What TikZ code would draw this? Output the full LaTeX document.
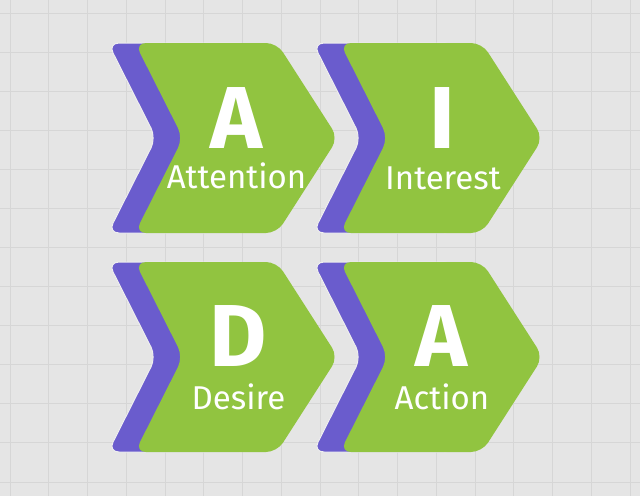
\documentclass[tikz,border=0pt]{standalone}
\usepackage{fontspec}
\setmainfont{Fira Sans}
\definecolor{bgc}{RGB}{229,229,229}
\definecolor{gridc}{RGB}{214,214,214}
\definecolor{purp}{RGB}{106,92,205}
\definecolor{leaf}{RGB}{145,196,64}
\tikzset{
  chevron/.pic={\path[pic actions, rounded corners=11pt] (0,0) -- (142,0) -- (203,95) -- (142,190) -- (0,190) -- (48,95) -- cycle;},
  back/.style={fill=purp, draw=white!40!bgc, line width=1pt},
  front/.style={fill=leaf},
  bigletter/.style={font=\fontsize{88}{88}\selectfont\bfseries, text=white, anchor=base, inner sep=0pt},
  word/.style={font=\fontsize{33}{33}\selectfont, text=white, anchor=base, inner sep=0pt},
  gridline/.style={draw=gridc, line width=0.8pt}
}
\begin{document}
\begin{tikzpicture}[x=1pt,y=-1pt]
\fill[bgc] (0,0) rectangle (640,496);
\useasboundingbox (0,0) rectangle (640,496);
\foreach \i in {0,...,16} \draw[gridline] ({10+38.75*\i},0) -- ({10+38.75*\i},496);
\foreach \j in {0,...,12} \draw[gridline] (0,{13+39.08*\j}) -- (640,{13+39.08*\j});
% chevrons
\foreach \L/\T in {135/43, 340/43, 135/262, 340/262} {
  \pic[back] at (\L-27,\T) {chevron};
  \pic[front] at (\L,\T) {chevron};
}
% texts
\node[bigletter] (bA1) at (236.5,148) {A};
\node[word] (wA1) at (236.5,188) {Attention};
\node[bigletter] (bI) at (442,148) {I};
\node[word] (wI) at (443,189) {Interest};
\node[bigletter] (bD) at (238,366) {D};
\node[word] (wD) at (238.5,409) {Desire};
\node[bigletter] (bA2) at (441.5,366) {A};
\node[word] (wA2) at (442,409) {Action};
\end{tikzpicture}
\end{document}
